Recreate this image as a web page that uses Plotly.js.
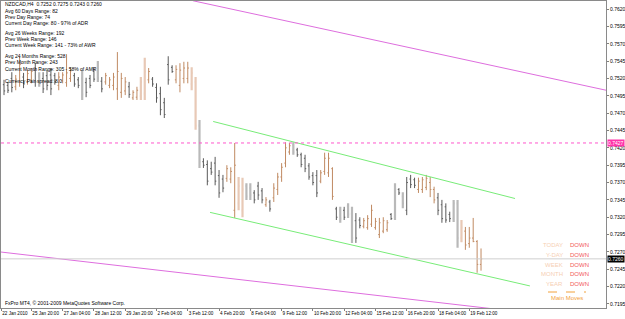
<!DOCTYPE html>
<html><head><meta charset="utf-8">
<script src="https://cdn.plot.ly/plotly-3.0.1.min.js"></script>
<style>html,body{margin:0;padding:0;background:#fff}#c{width:625px;height:319px}</style>
</head><body><div id="c"></div>
<script>
// ---- data (NZDCAD H4, bar index 0..122) ----
const open  = [0.7511,0.7510,0.7520,0.7508,0.7515,0.7522,0.7515,0.7518,0.7532,0.7523,
0.7520,0.7524,0.7525,0.7524,0.7510,0.7517,0.7514,0.7520,0.7524,0.7518,
0.7520,0.7514,0.7520,0.7530,0.7529,0.7516,0.7515,0.7510,0.7510,0.7505,
0.7500,0.7502,0.7508,0.7492,0.7493,0.7495,0.7498,0.7518,0.7519,0.7507,
0.7498,0.7485,0.7540,0.7536,0.7518,0.7510,0.7520,0.7520,0.7512,0.7515,
0.7452,0.7400,0.7396,0.7390,0.7398,0.7380,0.7375,0.7376,0.7375,0.7330,
0.7340,0.7330,0.7365,0.7362,0.7355,0.7365,0.7358,0.7338,0.7342,0.7348,
0.7360,0.7378,0.7398,0.7414,0.7424,0.7417,0.7410,0.7405,0.7394,0.7380,
0.7380,0.7372,0.7386,0.7384,0.7390,0.7332,0.7330,0.7330,0.7336,0.7325,
0.7315,0.7316,0.7307,0.7305,0.7310,0.7305,0.7295,0.7300,0.7302,0.7324,
0.7320,0.7360,0.7350,0.7330,0.7375,0.7374,0.7360,0.7360,0.7363,0.7370,
0.7360,0.7348,0.7338,0.7335,0.7324,0.7318,0.7340,0.7290,0.7300,0.7282,
0.7290,0.7285,0.7252];
const high  = [0.7518,0.7515,0.7529,0.7525,0.7551,0.7528,0.7532,0.7535,0.7542,0.7529,
0.7529,0.7532,0.7535,0.7528,0.7529,0.7529,0.7555,0.7536,0.7528,0.7522,
0.7532,0.7521,0.7525,0.7535,0.7545,0.7522,0.7528,0.7522,0.7528,0.7558,
0.7528,0.7522,0.7515,0.7503,0.7508,0.7522,0.7550,0.7535,0.7522,0.7513,
0.7508,0.7492,0.7552,0.7539,0.7539,0.7542,0.7544,0.7544,0.7536,0.7522,
0.7460,0.7405,0.7402,0.7400,0.7407,0.7388,0.7381,0.7395,0.7392,0.7427,
0.7378,0.7377,0.7369,0.7369,0.7359,0.7371,0.7362,0.7349,0.7345,0.7369,
0.7384,0.7398,0.7428,0.7427,0.7428,0.7420,0.7413,0.7410,0.7398,0.7385,
0.7388,0.7388,0.7413,0.7413,0.7392,0.7335,0.7335,0.7335,0.7340,0.7335,
0.7326,0.7320,0.7319,0.7323,0.7338,0.7319,0.7319,0.7320,0.7316,0.7326,
0.7369,0.7362,0.7356,0.7378,0.7381,0.7377,0.7377,0.7378,0.7381,0.7378,
0.7364,0.7355,0.7345,0.7340,0.7328,0.7345,0.7345,0.7316,0.7306,0.7306,
0.7319,0.7287,0.7275];
const low   = [0.7496,0.7499,0.7500,0.7503,0.7508,0.7506,0.7511,0.7513,0.7508,0.7508,
0.7499,0.7503,0.7496,0.7511,0.7503,0.7513,0.7508,0.7515,0.7508,0.7506,
0.7489,0.7493,0.7506,0.7515,0.7515,0.7500,0.7511,0.7506,0.7503,0.7489,
0.7492,0.7496,0.7492,0.7489,0.7489,0.7489,0.7489,0.7513,0.7508,0.7485,
0.7467,0.7463,0.7511,0.7528,0.7513,0.7500,0.7513,0.7513,0.7503,0.7446,
0.7391,0.7391,0.7366,0.7381,0.7366,0.7348,0.7356,0.7371,0.7369,0.7319,
0.7330,0.7320,0.7345,0.7345,0.7340,0.7345,0.7340,0.7335,0.7328,0.7342,
0.7352,0.7371,0.7392,0.7410,0.7410,0.7407,0.7392,0.7385,0.7374,0.7366,
0.7349,0.7369,0.7381,0.7378,0.7345,0.7316,0.7312,0.7316,0.7319,0.7283,
0.7283,0.7304,0.7304,0.7302,0.7306,0.7302,0.7290,0.7297,0.7299,0.7316,
0.7316,0.7352,0.7333,0.7323,0.7362,0.7362,0.7355,0.7355,0.7359,0.7349,
0.7340,0.7323,0.7312,0.7312,0.7313,0.7313,0.7276,0.7284,0.7273,0.7276,
0.7284,0.7240,0.7243];
const close = [0.7502,0.7503,0.7507,0.7519,0.7540,0.7512,0.7527,0.7530,0.7515,0.7512,
0.7505,0.7510,0.7505,0.7515,0.7522,0.7525,0.7528,0.7531,0.7512,0.7510,
0.7497,0.7500,0.7510,0.7519,0.7520,0.7505,0.7524,0.7518,0.7522,0.7530,
0.7520,0.7515,0.7497,0.7500,0.7503,0.7515,0.7530,0.7530,0.7512,0.7492,
0.7475,0.7468,0.7518,0.7530,0.7533,0.7532,0.7535,0.7535,0.7528,0.7452,
0.7400,0.7395,0.7372,0.7385,0.7372,0.7355,0.7362,0.7390,0.7386,0.7395,
0.7365,0.7360,0.7350,0.7352,0.7345,0.7352,0.7345,0.7345,0.7332,0.7362,
0.7378,0.7392,0.7420,0.7423,0.7414,0.7410,0.7396,0.7390,0.7378,0.7370,
0.7355,0.7384,0.7405,0.7405,0.7350,0.7320,0.7318,0.7320,0.7324,0.7290,
0.7290,0.7308,0.7315,0.7318,0.7330,0.7314,0.7312,0.7315,0.7312,0.7318,
0.7360,0.7355,0.7340,0.7370,0.7367,0.7366,0.7372,0.7374,0.7376,0.7360,
0.7345,0.7330,0.7318,0.7316,0.7318,0.7340,0.7290,0.7305,0.7280,0.7290,
0.7285,0.7252,0.7260];
// bar colouring class seen on the chart: g=grey, t=tan, G=light grey (wide), T=light tan (wide)
const barClass = ("gggttgttgG"+"ggggttttgg"+"GgggGgtttt"+"ttgttTTtgg"+"ggggttttTT"+
                  "Gggggggttt"+"TTGGgggtgt"+"ttttGggggg"+"gttttgGgGG"+"ggtttttttg"+
                  "GgGgggtttt"+"tggggGGTtt"+"ttt").split("");
const xTickBars   = [-0.7,7,15,23,31,39,47,55,63,71,79,87,95,103,111,119];
const xTickLabels = ["22 Jan 2010","25 Jan 20:00","27 Jan 04:00","28 Jan 12:00","29 Jan 20:00",
  "2 Feb 04:00","3 Feb 12:00","4 Feb 20:00","8 Feb 04:00","9 Feb 12:00","10 Feb 20:00",
  "12 Feb 04:00","15 Feb 12:00","16 Feb 20:00","18 Feb 04:00","19 Feb 12:00"];
const yTicks = [0.7195,0.7220,0.7245,0.7270,0.7295,0.7320,0.7345,0.7370,0.7395,0.7420,
  0.7445,0.7470,0.7495,0.7520,0.7545,0.7570,0.7595,0.7620];
// drawn objects (bar index, price)
const greenUpperX = [53.5,130.7], greenUpperY = [0.7458,0.7347];
const greenLowerX = [52.7,134.5], greenLowerY = [0.7327,0.7221];
const pinkUpperX  = [48.3,154.0], pinkUpperY  = [0.7632,0.7503];
const pinkLowerX  = [-1.0,125.1], pinkLowerY  = [0.7270,0.7188];
const alertLevel = 0.7427;
const bidLevel = 0.7260;
const infoLines = ["NZDCAD,H4  0.7252 0.7275 0.7243 0.7260","Avg 60 Days Range: 82","Prev Day Range: 74",
  "Current Day Range: 80 - 97% of ADR","Avg 26 Weeks Range: 192","Prev Week Range: 146",
  "Current Week Range: 141 - 73% of AWR","Avg 24 Months Range: 528","Prev Month Range: 243",
  "Current Month Range: 305 - 58% of AMR","Currency Pair spread: 8.0"];
const trendPeriods = ["TODAY","Y-DAY","WEEK","MONTH","YEAR"];
const trendStates  = ["DOWN","DOWN","DOWN","DOWN","DOWN"];

// ---- layout helpers ----
const FONT = "Liberation Sans, Arial, sans-serif";
const L=1, R=606, T=1, B=308;
const px = x => (x-L)/(R-L);
const py = y => (B-y)/(B-T);

const idx = open.map((_,i)=>i);
const colors = {g:"#5a5a5a", t:"#c08a62", G:"#b9b9b9", T:"#e8c9b6"};
const widths = {g:1, t:1, G:2.2, T:2.2};
const traces = [];
["G","T","g","t"].forEach(k=>{
  const sel = idx.filter(i=>barClass[i]===k);
  traces.push({type:"ohlc", x:sel, open:sel.map(i=>open[i]), high:sel.map(i=>high[i]),
    low:sel.map(i=>low[i]), close:sel.map(i=>close[i]), tickwidth:0.3, hoverinfo:"skip",
    increasing:{line:{color:colors[k], width:widths[k]}},
    decreasing:{line:{color:colors[k], width:widths[k]}}});
});
const line = (x,y,c,w)=>({type:"scatter",mode:"lines",x,y,line:{color:c,width:w},hoverinfo:"skip"});
traces.push(line(pinkUpperX,pinkUpperY,"#de6ede",1));
traces.push(line(pinkLowerX,pinkLowerY,"#de6ede",1));
traces.push(line(greenUpperX,greenUpperY,"#78ec78",1));
traces.push(line(greenLowerX,greenLowerY,"#78ec78",1));

const ann = [];
const infoY = [4,10.5,16.8,23,33,39,45,56.5,62.4,68.6,80.6];
infoLines.forEach((t,i)=>ann.push({xref:"paper",yref:"paper",x:px(3),y:py(infoY[i]),xanchor:"left",yanchor:"middle",
  text:t,showarrow:false,font:{size:5,color:"#000",family:FONT}}));
ann.push({xref:"paper",yref:"paper",x:px(3),y:py(302.5),xanchor:"left",yanchor:"middle",
  text:"FxPro MT4, © 2001-2009 MetaQuotes Software Corp.",showarrow:false,font:{size:5,color:"#000",family:FONT}});
const legY=[245,255,264.5,274,284];
trendPeriods.forEach((t,i)=>{
  ann.push({xref:"paper",yref:"paper",x:px(565),y:py(legY[i]),xanchor:"right",yanchor:"middle",text:t,showarrow:false,
    font:{size:6,color:"#f6cfb4",family:FONT}});
  ann.push({xref:"paper",yref:"paper",x:px(567.5),y:py(legY[i]),xanchor:"left",yanchor:"middle",text:trendStates[i],showarrow:false,
    font:{size:6,color:"#f25a5a",family:FONT}});
});
ann.push({xref:"paper",yref:"paper",x:px(567),y:py(297.5),xanchor:"center",yanchor:"middle",text:"Main Moves",showarrow:false,
  font:{size:6,color:"#f2a23c",family:FONT}});
ann.push({xref:"paper",yref:"y",x:1,y:alertLevel,xanchor:"left",yanchor:"middle",text:alertLevel.toFixed(4),showarrow:false,
  bgcolor:"#ff33aa",borderpad:0,xshift:1,font:{size:5,color:"#fff",family:FONT}});
ann.push({xref:"paper",yref:"y",x:1,y:bidLevel,xanchor:"left",yanchor:"middle",text:bidLevel.toFixed(4),showarrow:false,
  bgcolor:"#000",borderpad:0,xshift:1,font:{size:5,color:"#fff",family:FONT}});

const shapes = [
  {type:"line",xref:"paper",x0:0,x1:1,yref:"y",y0:alertLevel,y1:alertLevel,line:{color:"#ff55cc",width:1,dash:"dot"}},
  {type:"line",xref:"paper",x0:0,x1:1,yref:"y",y0:bidLevel,y1:bidLevel,line:{color:"#cfcfcf",width:1}},
  {type:"line",xref:"paper",yref:"paper",x0:px(548),x1:px(586),y0:py(292),y1:py(292),line:{color:"#f2a23c",width:1,dash:"dash"}}
];

const layout = {
  width:625, height:319, margin:{l:L,r:625-R,t:T,b:319-B,pad:0},
  paper_bgcolor:"#fff", plot_bgcolor:"#fff", showlegend:false,
  font:{family:FONT,size:5,color:"#000"},
  xaxis:{range:[(L-4)/3.91,(R-4)/3.91], tickmode:"array", tickvals:xTickBars, ticktext:xTickLabels,
    tickangle:0, ticks:"outside", ticklen:2, tickcolor:"#808080", ticklabelposition:"outside right",
    tickfont:{size:4.6,color:"#000",family:FONT}, showgrid:false, zeroline:false, automargin:false,
    showline:true, mirror:true, linecolor:"#8a8a8a", linewidth:1, rangeslider:{visible:false}, fixedrange:true},
  yaxis:{side:"right", range:[0.71892,0.76316], tickmode:"array", tickvals:yTicks, ticktext:yTicks.map(v=>v.toFixed(4)),
    ticks:"outside", ticklen:2, tickcolor:"#808080", tickfont:{size:5,color:"#000",family:FONT}, automargin:false,
    showgrid:false, zeroline:false, showline:true, mirror:true, linecolor:"#8a8a8a", linewidth:1, fixedrange:true},
  annotations:ann, shapes:shapes
};
Plotly.newPlot("c", traces, layout, {displayModeBar:false, staticPlot:true});
</script></body></html>
